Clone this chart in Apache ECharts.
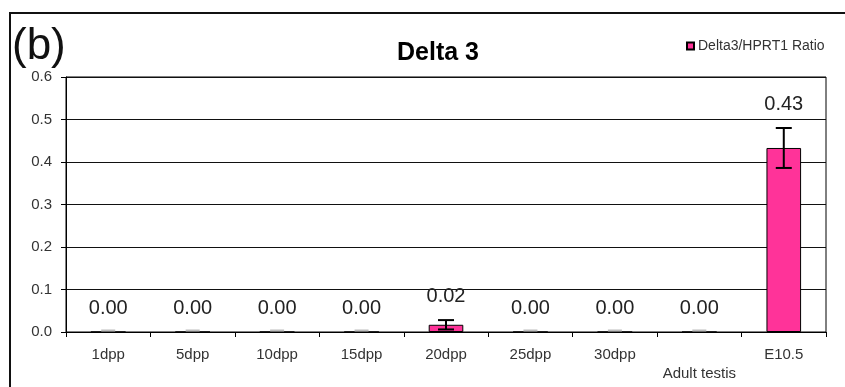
<!DOCTYPE html>
<html>
<head>
<meta charset="utf-8">
<style>
  html, body { margin: 0; padding: 0; background: #fff; }
  #chart { width: 845px; height: 387px; }
</style>
<script src="https://cdn.jsdelivr.net/npm/echarts@6/dist/echarts.min.js"></script>
</head>
<body>
<div id="chart"></div>
<script>
// Delta3 expression relative to HPRT1, by developmental stage
const categories = ['1dpp', '5dpp', '10dpp', '15dpp', '20dpp', '25dpp', '30dpp', 'Adult testis', 'E10.5'];
const ratioMeans = [0, 0, 0, 0, 0.017, 0, 0, 0, 0.433];
const ratioErrors = [0, 0, 0, 0, 0.011, 0, 0, 0, 0.047];
const seriesName = 'Delta3/HPRT1 Ratio';
const yMin = 0, yMax = 0.6, yStep = 0.1;

const FONT = 'Arial, "Liberation Sans", sans-serif';
const chart = echarts.init(document.getElementById('chart'), null, { renderer: 'canvas' });

const errorData = categories.map((c, i) => [i, ratioMeans[i], ratioErrors[i]]);

function renderError(params, api) {
  const i = api.value(0), m = api.value(1), e = api.value(2);
  const top = api.coord([i, m + e]);
  const bot = api.coord([i, m - e]);
  const base = api.coord([i, 0]);
  const children = [];
  const cap = 8;
  if (e > 0) {
    const st = { stroke: '#000', lineWidth: 2 };
    children.push({ type: 'line', shape: { x1: top[0], y1: top[1], x2: bot[0], y2: bot[1] }, style: st });
    children.push({ type: 'line', shape: { x1: top[0] - cap, y1: top[1], x2: top[0] + cap, y2: top[1] }, style: st });
    children.push({ type: 'line', shape: { x1: bot[0] - cap, y1: bot[1], x2: bot[0] + cap, y2: bot[1] }, style: st });
  }
  if (m === 0) {
    children.push({ type: 'line', shape: { x1: base[0] - 7, y1: base[1] - 1.5, x2: base[0] + 7, y2: base[1] - 1.5 },
      style: { stroke: '#bdbdbd', lineWidth: 2 } });
  }
  children.push({
    type: 'text',
    style: {
      x: top[0], y: top[1] - 24, text: m.toFixed(2),
      font: '20px ' + FONT, fill: '#222', align: 'center', verticalAlign: 'middle'
    }
  });
  return { type: 'group', children };
}

chart.setOption({
  animation: false,
  backgroundColor: '#fff',
  title: {
    text: 'Delta 3',
    left: 392, top: 36,
    textStyle: { fontFamily: FONT, fontSize: 25, fontWeight: 'bold', color: '#000' }
  },
  legend: {
    data: [seriesName],
    left: 681, top: 34,
    icon: 'rect', itemWidth: 7, itemHeight: 7, itemGap: 4,
    textStyle: { fontFamily: FONT, fontSize: 14, color: '#333', padding: [0, 0, 0, -1] }
  },
  grid: {
    left: 66, right: 19, top: 77, bottom: 55,
    show: true, borderColor: '#000', borderWidth: 1
  },
  graphic: [
    { type: 'rect', shape: { x: 10, y: 13, width: 900, height: 500 }, style: { fill: 'none', stroke: '#111', lineWidth: 2 } },
    { type: 'text', left: 12, top: 25, style: { text: '(b)', font: '44px ' + FONT, fill: '#111' } }
  ],
  xAxis: {
    type: 'category',
    data: categories,
    boundaryGap: true,
    axisLine: { lineStyle: { color: '#000', width: 1 } },
    axisTick: { show: true, alignWithLabel: false, length: 5, lineStyle: { color: '#000' } },
    axisLabel: {
      interval: 0, margin: 13, fontFamily: FONT, fontSize: 15, color: '#333', lineHeight: 19,
      formatter: v => (v === 'Adult testis' ? '\n' + v : v)
    }
  },
  yAxis: {
    type: 'value',
    min: yMin, max: yMax, interval: yStep,
    axisLine: { show: true, lineStyle: { color: '#000', width: 1 } },
    axisTick: { show: true, length: 5, lineStyle: { color: '#000' } },
    axisLabel: { margin: 14, fontFamily: FONT, fontSize: 15, color: '#333', formatter: v => v.toFixed(1) },
    splitLine: { show: true, lineStyle: { color: '#111', width: 1 } }
  },
  series: [
    {
      name: seriesName,
      type: 'bar',
      data: ratioMeans,
      barWidth: '41%',
      itemStyle: { color: '#FF3399', borderColor: '#000', borderWidth: 1 }
    },
    {
      name: 'error',
      type: 'custom',
      renderItem: renderError,
      data: errorData,
      z: 5,
      silent: true
    }
  ]
});
</script>
</body>
</html>
